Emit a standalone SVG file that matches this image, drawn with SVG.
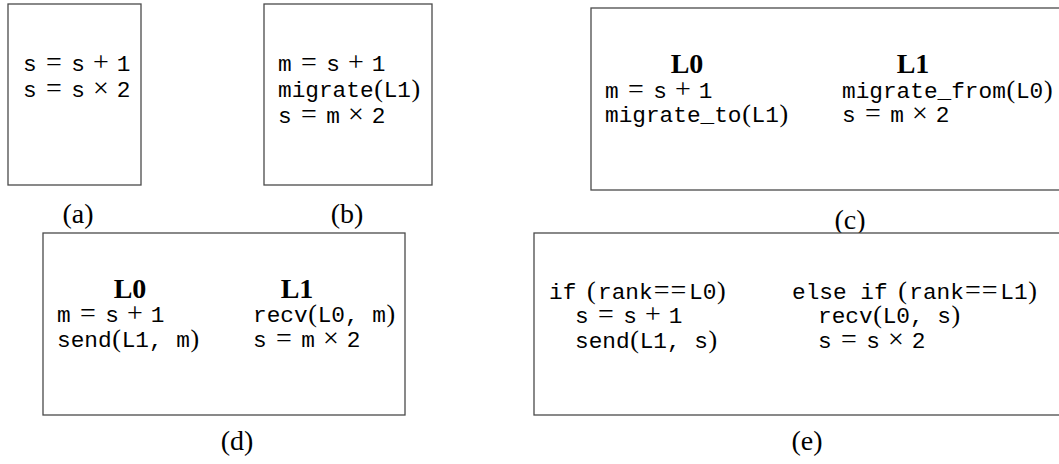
<svg xmlns="http://www.w3.org/2000/svg" width="1059" height="464" viewBox="0 0 1059 464">
  <style>
    .frame { fill: #ffffff; stroke: #4a4a4a; stroke-width: 1.3; }
    .tt { font-family: "Liberation Mono", "DejaVu Sans Mono", monospace; font-size: 22.75px; fill: #000; }
    .rm { font-family: "Liberation Serif", "DejaVu Serif", serif; font-size: 26px; }
    .sym { font-family: "Liberation Serif", "DejaVu Serif", serif; font-size: 28px; }
    .bf { font-family: "Liberation Serif", "DejaVu Serif", serif; font-size: 28px; font-weight: bold; fill: #000; text-anchor: middle; }
    .cap { font-family: "Liberation Serif", "DejaVu Serif", serif; font-size: 28px; fill: #000; text-anchor: middle; }
  </style>
  <rect width="1059" height="464" fill="#ffffff"/>

  <!-- (a) sequential program -->
  <g id="panel-a">
    <rect class="frame" x="8" y="4" width="133" height="181"/>
    <text class="tt" y="71"><tspan x="23">s</tspan><tspan class="sym" x="46.1">=</tspan><tspan x="71.35">s</tspan><tspan class="sym" x="93">+</tspan><tspan x="116.77">1</tspan></text>
    <text class="tt" y="97"><tspan x="23">s</tspan><tspan class="sym" x="46.1">=</tspan><tspan x="71.35">s</tspan><tspan class="sym" x="93">×</tspan><tspan x="116.77">2</tspan></text>
    <text class="cap" x="78" y="223">(a)</text>
  </g>

  <!-- (b) single migrate call -->
  <g id="panel-b">
    <rect class="frame" x="264" y="4" width="168" height="181"/>
    <text class="tt" y="71"><tspan x="278">m</tspan><tspan class="sym" x="301.1">=</tspan><tspan x="326.35">s</tspan><tspan class="sym" x="348">+</tspan><tspan x="371.77">1</tspan></text>
    <text class="tt" y="97"><tspan x="278">migrate</tspan><tspan class="rm" x="374.2">(</tspan><tspan x="383.65">L1</tspan><tspan class="rm" x="411.6">)</tspan></text>
    <text class="tt" y="123"><tspan x="278">s</tspan><tspan class="sym" x="301.1">=</tspan><tspan x="326.35">m</tspan><tspan class="sym" x="348">×</tspan><tspan x="371.77">2</tspan></text>
    <text class="cap" x="347" y="223">(b)</text>
  </g>

  <!-- (c) split migrate_to / migrate_from -->
  <g id="panel-c">
    <rect class="frame" x="591" y="8" width="480" height="182"/>
    <text class="bf" x="687" y="73">L0</text>
    <text class="bf" x="913" y="73">L1</text>
    <text class="tt" y="97.5"><tspan x="605">m</tspan><tspan class="sym" x="628.1">=</tspan><tspan x="653.35">s</tspan><tspan class="sym" x="675">+</tspan><tspan x="698.77">1</tspan></text>
    <text class="tt" y="122"><tspan x="605">migrate_to</tspan><tspan class="rm" x="742.2">(</tspan><tspan x="751.6">L1</tspan><tspan class="rm" x="779.6">)</tspan></text>
    <text class="tt" y="97.5"><tspan x="842">migrate_from</tspan><tspan class="rm" x="1006.5">(</tspan><tspan x="1015.9">L0</tspan><tspan class="rm" x="1043.9">)</tspan></text>
    <text class="tt" y="122"><tspan x="842">s</tspan><tspan class="sym" x="865.1">=</tspan><tspan x="890.35">m</tspan><tspan class="sym" x="912">×</tspan><tspan x="935.77">2</tspan></text>
    <text class="cap" x="850" y="229">(c)</text>
  </g>

  <!-- (d) explicit send / recv -->
  <g id="panel-d">
    <rect class="frame" x="43" y="233" width="362" height="182"/>
    <text class="bf" x="130" y="298">L0</text>
    <text class="bf" x="297" y="298">L1</text>
    <text class="tt" y="322"><tspan x="57">m</tspan><tspan class="sym" x="80.1">=</tspan><tspan x="105.35">s</tspan><tspan class="sym" x="127">+</tspan><tspan x="150.77">1</tspan></text>
    <text class="tt" y="347" xml:space="preserve"><tspan x="57">send</tspan><tspan class="rm" x="112.3">(</tspan><tspan x="121.7">L1, m</tspan><tspan class="rm" x="190.6">)</tspan></text>
    <text class="tt" y="322" xml:space="preserve"><tspan x="253">recv</tspan><tspan class="rm" x="308.3">(</tspan><tspan x="317.7">L0, m</tspan><tspan class="rm" x="386.6">)</tspan></text>
    <text class="tt" y="347"><tspan x="253">s</tspan><tspan class="sym" x="276.1">=</tspan><tspan x="301.35">m</tspan><tspan class="sym" x="323">×</tspan><tspan x="346.77">2</tspan></text>
    <text class="cap" x="237" y="450">(d)</text>
  </g>

  <!-- (e) rank-conditional SPMD form -->
  <g id="panel-e">
    <rect class="frame" x="534" y="233" width="537" height="182"/>
    <text class="tt" y="299"><tspan x="549">if</tspan><tspan class="rm" x="587">(</tspan><tspan x="598">rank</tspan><tspan class="sym" x="653.7" letter-spacing="1">==</tspan><tspan x="689">L0</tspan><tspan class="rm" x="717">)</tspan></text>
    <text class="tt" y="323"><tspan x="575">s</tspan><tspan class="sym" x="598.1">=</tspan><tspan x="623.35">s</tspan><tspan class="sym" x="645">+</tspan><tspan x="668.77">1</tspan></text>
    <text class="tt" y="348" xml:space="preserve"><tspan x="575">send</tspan><tspan class="rm" x="630.3">(</tspan><tspan x="639.7">L1, s</tspan><tspan class="rm" x="708.6">)</tspan></text>
    <text class="tt" y="299" xml:space="preserve"><tspan x="792">else if</tspan><tspan class="rm" x="898.25">(</tspan><tspan x="909.25">rank</tspan><tspan class="sym" x="964.95" letter-spacing="1">==</tspan><tspan x="1000.25">L1</tspan><tspan class="rm" x="1028.25">)</tspan></text>
    <text class="tt" y="323" xml:space="preserve"><tspan x="818">recv</tspan><tspan class="rm" x="873.3">(</tspan><tspan x="882.7">L0, s</tspan><tspan class="rm" x="951.6">)</tspan></text>
    <text class="tt" y="348"><tspan x="818">s</tspan><tspan class="sym" x="841.1">=</tspan><tspan x="866.35">s</tspan><tspan class="sym" x="888">×</tspan><tspan x="911.77">2</tspan></text>
    <text class="cap" x="807" y="450">(e)</text>
  </g>
</svg>
